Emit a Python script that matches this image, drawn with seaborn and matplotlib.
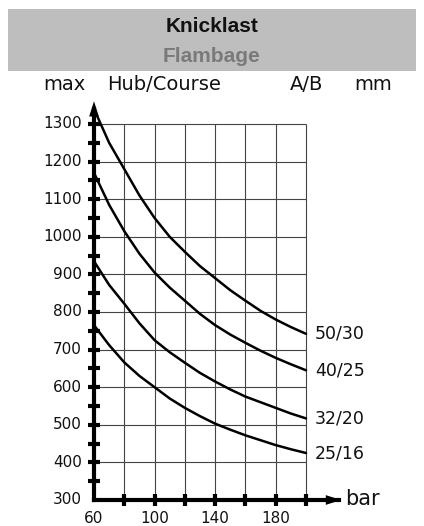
import numpy as np
import pandas as pd
import seaborn as sns
import matplotlib.pyplot as plt
from matplotlib.patches import Rectangle

# pressure (bar) and max stroke (mm) per cylinder size A/B
pressure = [60, 70, 80, 90, 100, 110, 120, 130, 140, 150, 160, 170, 180, 190, 200]
stroke_50_30 = [1340, 1250, 1180, 1110, 1050, 1000, 960, 922, 890, 858, 830, 803, 780, 760, 742]
stroke_40_25 = [1170, 1085, 1015, 955, 905, 865, 830, 795, 765, 740, 718, 697, 678, 661, 645]
stroke_32_20 = [935, 872, 822, 770, 725, 693, 665, 638, 615, 594, 575, 560, 545, 530, 517]
stroke_25_16 = [765, 712, 666, 630, 600, 570, 545, 523, 503, 487, 472, 459, 446, 435, 425]
sizes = ['50/30', '40/25', '32/20', '25/16']

x_ticks = [60, 100, 140, 180]
y_ticks = [300, 400, 500, 600, 700, 800, 900, 1000, 1100, 1200, 1300]

rows = []
for name, vals in zip(sizes, [stroke_50_30, stroke_40_25, stroke_32_20, stroke_25_16]):
    for p, v in zip(pressure, vals):
        rows.append({'bar': p, 'mm': v, 'size': name})
df = pd.DataFrame(rows)

sns.set_style('white')
plt.rcParams['font.family'] = ['DejaVu Sans']

fig = plt.figure(figsize=(4.24, 5.26), dpi=100)
W, H = 424, 526
# x: 60 -> px 94, 200 -> px 306 ; y: 300 -> px 500, 1300 -> px 124
xlim = (60, 240)
ylim = (300, 1380)
px_per_x = (306 - 94) / 140
px_per_y = (500 - 124) / 1000
ax_w = (xlim[1] - xlim[0]) * px_per_x
ax_h = (ylim[1] - ylim[0]) * px_per_y
ax = fig.add_axes([94 / W, (H - 500) / H, ax_w / W, ax_h / H])
ax.set_xlim(*xlim)
ax.set_ylim(*ylim)
for s in ax.spines.values():
    s.set_visible(False)
ax.set_xticks([])
ax.set_yticks([])
ax.patch.set_alpha(0)

# grid
ax.vlines(np.arange(80, 201, 20), 300, 1300, color='#444444', lw=0.8, zorder=1)
ax.hlines(np.arange(400, 1301, 100), 60, 200, color='#444444', lw=0.8, zorder=1)

# curves
sns.lineplot(data=df, x='bar', y='mm', hue='size', palette=['black'] * 4,
             legend=False, lw=1.8, ax=ax, zorder=3)
ax.set_xlabel('')
ax.set_ylabel('')

for name, vals in zip(sizes, [stroke_50_30, stroke_40_25, stroke_32_20, stroke_25_16]):
    ax.text(206, vals[-1], name, fontsize=12.5, va='center', ha='left', color='#111111')

# axes with arrows
ax.plot([60, 60], [300, 1340], color='black', lw=3, zorder=4, solid_capstyle='projecting', clip_on=False)
ax.plot([60, 222], [300, 300], color='black', lw=3, zorder=4, solid_capstyle='projecting', clip_on=False)
ax.annotate('', xy=(60, 1368), xytext=(60, 1330), annotation_clip=False,
            arrowprops=dict(arrowstyle='-|>,head_width=0.35,head_length=1.1', color='black', lw=0), zorder=5)
ax.annotate('', xy=(225, 300), xytext=(212, 300), annotation_clip=False,
            arrowprops=dict(arrowstyle='-|>,head_width=0.35,head_length=1.1', color='black', lw=0), zorder=5)

# tick marks
for yv in range(350, 1301, 50):
    ax.plot([60 - 4, 60 + 4], [yv, yv], color='black', lw=3, zorder=4,
            solid_capstyle='butt', clip_on=False)
for xv in range(80, 201, 20):
    ax.plot([xv, xv], [300 - 16, 300 + 16], color='black', lw=3, zorder=4,
            solid_capstyle='butt', clip_on=False)

for yv in y_ticks:
    ax.text(52, yv, str(yv), fontsize=11, ha='right', va='center', color='#111111')
for xv in x_ticks:
    ax.text(xv, 251, str(xv), fontsize=11, ha='center', va='center', color='#111111')
ax.text(226, 302, 'bar', fontsize=15, ha='left', va='center', color='#111111')

# header
fig.patches.append(Rectangle((8 / W, (H - 71) / H), 408 / W, 62 / H, transform=fig.transFigure,
                             facecolor='#bebebe', edgecolor='none', zorder=0))
fig.text(0.5, (H - 27) / H, 'Knicklast', fontsize=15, fontweight='bold', ha='center', va='center',
         family=['Liberation Sans Narrow', 'Liberation Sans'], color='#111111')
fig.text(0.5, (H - 56) / H, 'Flambage', fontsize=15, fontweight='bold', ha='center', va='center',
         family=['Liberation Sans Narrow', 'Liberation Sans'], color='#7a7a7a')
fig.text(43 / W, (H - 84) / H, 'max', fontsize=14, ha='left', va='center', color='#111111')
fig.text(107 / W, (H - 84) / H, 'Hub/Course', fontsize=14, ha='left', va='center', color='#111111')
fig.text(290 / W, (H - 84) / H, 'A/B', fontsize=14, ha='left', va='center', color='#111111')
fig.text(392 / W, (H - 84) / H, 'mm', fontsize=14, ha='right', va='center', color='#111111')

fig.savefig('out.png', dpi=100)
